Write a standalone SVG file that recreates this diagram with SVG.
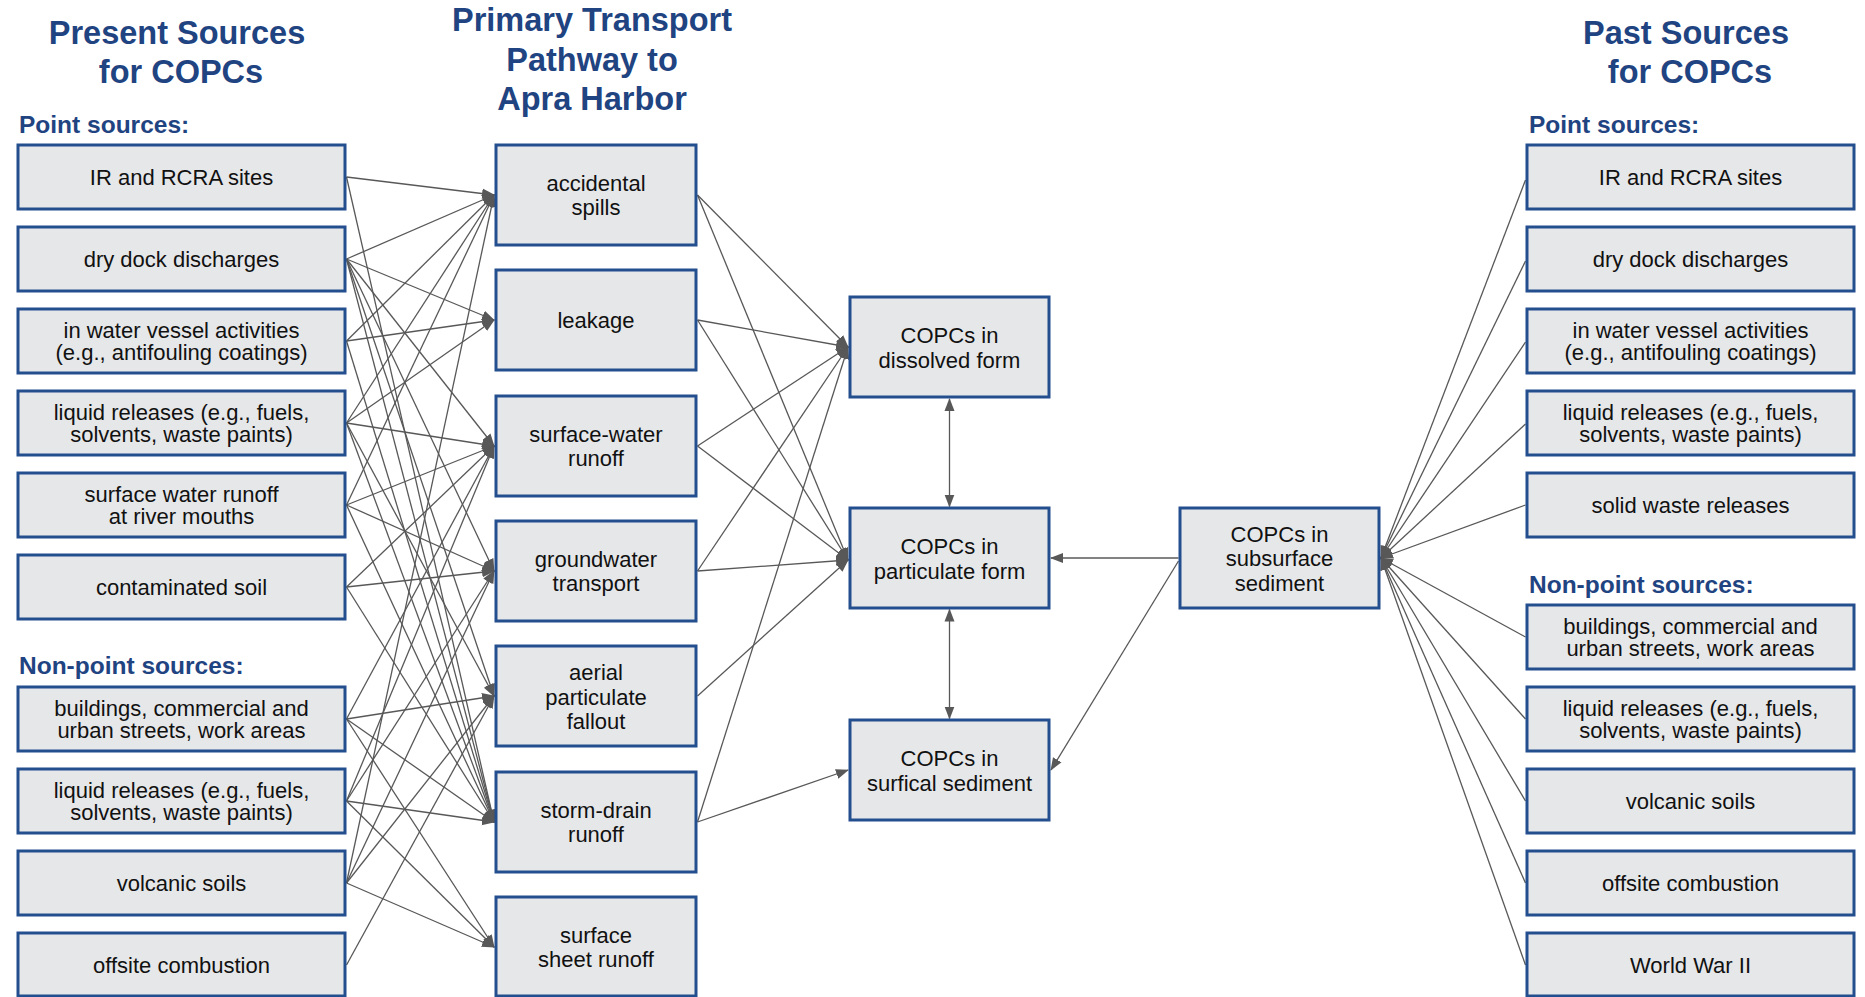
<svg xmlns="http://www.w3.org/2000/svg" width="1865" height="997" viewBox="0 0 1865 997">
<defs>
<style>
.box{fill:#e6e7e9;stroke:#244f8f;stroke-width:3}
.t{font-family:"Liberation Sans",Arial,sans-serif;font-size:22px;fill:#111;text-anchor:middle}
.h{font-family:"Liberation Sans",Arial,sans-serif;font-size:32.5px;font-weight:bold;fill:#1f4481;text-anchor:middle}
.s{font-family:"Liberation Sans",Arial,sans-serif;font-size:24.5px;font-weight:bold;fill:#1f4481}
.c line{stroke:#585858;stroke-width:1.3;fill:none;marker-end:url(#ah)}
.c line.d{marker-start:url(#ah)}
</style>
<marker id="ah" markerUnits="userSpaceOnUse" markerWidth="14" markerHeight="12" refX="12" refY="5" orient="auto-start-reverse" viewBox="0 0 14 10">
<path d="M0,0 L13,5 L0,10 z" fill="#585858"/>
</marker>
</defs>
<rect width="1865" height="997" fill="#fff"/>

<g id="headings">
<text class="h" x="177" y="43.5">Present Sources</text>
<text class="h" x="181" y="83">for COPCs</text>
<text class="h" x="592" y="31">Primary Transport</text>
<text class="h" x="592" y="70.5">Pathway to</text>
<text class="h" x="592" y="110">Apra Harbor</text>
<text class="h" x="1686" y="43.5">Past Sources</text>
<text class="h" x="1690" y="83">for COPCs</text>
<text class="s" x="19" y="133">Point sources:</text>
<text class="s" x="19" y="674">Non-point sources:</text>
<text class="s" x="1529" y="133">Point sources:</text>
<text class="s" x="1529" y="593">Non-point sources:</text>
</g>

<g id="connectors" class="c">
<line x1="346.5" y1="177" x2="494" y2="195"/>
<line x1="346.5" y1="177" x2="494" y2="822"/>
<line x1="346.5" y1="259" x2="494" y2="195"/>
<line x1="346.5" y1="259" x2="494" y2="320"/>
<line x1="346.5" y1="259" x2="494" y2="446"/>
<line x1="346.5" y1="259" x2="494" y2="571"/>
<line x1="346.5" y1="259" x2="494" y2="696"/>
<line x1="346.5" y1="259" x2="494" y2="822"/>
<line x1="346.5" y1="341" x2="494" y2="195"/>
<line x1="346.5" y1="341" x2="494" y2="320"/>
<line x1="346.5" y1="341" x2="494" y2="822"/>
<line x1="346.5" y1="423" x2="494" y2="195"/>
<line x1="346.5" y1="423" x2="494" y2="320"/>
<line x1="346.5" y1="423" x2="494" y2="446"/>
<line x1="346.5" y1="423" x2="494" y2="696"/>
<line x1="346.5" y1="423" x2="494" y2="822"/>
<line x1="346.5" y1="505" x2="494" y2="195"/>
<line x1="346.5" y1="505" x2="494" y2="446"/>
<line x1="346.5" y1="505" x2="494" y2="571"/>
<line x1="346.5" y1="505" x2="494" y2="822"/>
<line x1="346.5" y1="587" x2="494" y2="446"/>
<line x1="346.5" y1="587" x2="494" y2="571"/>
<line x1="346.5" y1="587" x2="494" y2="822"/>
<line x1="346.5" y1="719" x2="494" y2="446"/>
<line x1="346.5" y1="719" x2="494" y2="696"/>
<line x1="346.5" y1="719" x2="494" y2="822"/>
<line x1="346.5" y1="719" x2="494" y2="947"/>
<line x1="346.5" y1="801" x2="494" y2="446"/>
<line x1="346.5" y1="801" x2="494" y2="571"/>
<line x1="346.5" y1="801" x2="494" y2="822"/>
<line x1="346.5" y1="801" x2="494" y2="947"/>
<line x1="346.5" y1="883" x2="494" y2="195"/>
<line x1="346.5" y1="883" x2="494" y2="571"/>
<line x1="346.5" y1="883" x2="494" y2="696"/>
<line x1="346.5" y1="883" x2="494" y2="947"/>
<line x1="346.5" y1="965" x2="494" y2="696"/>
<line x1="697.5" y1="195" x2="848" y2="347"/>
<line x1="697.5" y1="195" x2="848" y2="560"/>
<line x1="697.5" y1="320" x2="848" y2="347"/>
<line x1="697.5" y1="320" x2="848" y2="560"/>
<line x1="697.5" y1="446" x2="848" y2="347"/>
<line x1="697.5" y1="446" x2="848" y2="560"/>
<line x1="697.5" y1="571" x2="848" y2="347"/>
<line x1="697.5" y1="571" x2="848" y2="560"/>
<line x1="697.5" y1="696" x2="848" y2="560"/>
<line x1="697.5" y1="822" x2="848" y2="347"/>
<line x1="697.5" y1="822" x2="848" y2="770"/>
<line class="d" x1="949.5" y1="399" x2="949.5" y2="506.5"/>
<line class="d" x1="949.5" y1="609.5" x2="949.5" y2="718.5"/>
<line x1="1178.5" y1="558" x2="1051" y2="558"/>
<line x1="1178.5" y1="561" x2="1051" y2="770"/>
<line x1="1525.5" y1="180" x2="1381" y2="558"/>
<line x1="1525.5" y1="261" x2="1381" y2="558"/>
<line x1="1525.5" y1="342" x2="1381" y2="558"/>
<line x1="1525.5" y1="424" x2="1381" y2="558"/>
<line x1="1525.5" y1="505" x2="1381" y2="558"/>
<line x1="1525.5" y1="637" x2="1381" y2="558"/>
<line x1="1525.5" y1="719" x2="1381" y2="558"/>
<line x1="1525.5" y1="801" x2="1381" y2="558"/>
<line x1="1525.5" y1="883" x2="1381" y2="558"/>
<line x1="1525.5" y1="965" x2="1381" y2="558"/>
</g>

<g id="present-ir"><rect class="box" x="18" y="145" width="327" height="64"/><text class="t" x="181.5" y="185">IR and RCRA sites</text></g>
<g id="present-drydock"><rect class="box" x="18" y="227" width="327" height="64"/><text class="t" x="181.5" y="267">dry dock discharges</text></g>
<g id="present-vessel"><rect class="box" x="18" y="309" width="327" height="64"/><text class="t" x="181.5" y="337.8">in water vessel activities</text><text class="t" x="181.5" y="360.3">(e.g., antifouling coatings)</text></g>
<g id="present-liquid"><rect class="box" x="18" y="391" width="327" height="64"/><text class="t" x="181.5" y="419.8">liquid releases (e.g., fuels,</text><text class="t" x="181.5" y="442.3">solvents, waste paints)</text></g>
<g id="present-swrunoff"><rect class="box" x="18" y="473" width="327" height="64"/><text class="t" x="181.5" y="501.8">surface water runoff</text><text class="t" x="181.5" y="524.3">at river mouths</text></g>
<g id="present-soil"><rect class="box" x="18" y="555" width="327" height="64"/><text class="t" x="181.5" y="595">contaminated soil</text></g>
<g id="present-buildings"><rect class="box" x="18" y="687" width="327" height="64"/><text class="t" x="181.5" y="715.8">buildings, commercial and</text><text class="t" x="181.5" y="738.3">urban streets, work areas</text></g>
<g id="present-liquid2"><rect class="box" x="18" y="769" width="327" height="64"/><text class="t" x="181.5" y="797.8">liquid releases (e.g., fuels,</text><text class="t" x="181.5" y="820.3">solvents, waste paints)</text></g>
<g id="present-volcanic"><rect class="box" x="18" y="851" width="327" height="64"/><text class="t" x="181.5" y="891">volcanic soils</text></g>
<g id="present-offsite"><rect class="box" x="18" y="933" width="327" height="63"/><text class="t" x="181.5" y="973">offsite combustion</text></g>

<g id="tp-spills"><rect class="box" x="496" y="145" width="200" height="100"/><text class="t" x="596" y="190.8">accidental</text><text class="t" x="596" y="215.3">spills</text></g>
<g id="tp-leakage"><rect class="box" x="496" y="270" width="200" height="100"/><text class="t" x="596" y="328">leakage</text></g>
<g id="tp-swrunoff"><rect class="box" x="496" y="396" width="200" height="100"/><text class="t" x="596" y="441.8">surface-water</text><text class="t" x="596" y="466.3">runoff</text></g>
<g id="tp-groundwater"><rect class="box" x="496" y="521" width="200" height="100"/><text class="t" x="596" y="566.8">groundwater</text><text class="t" x="596" y="591.3">transport</text></g>
<g id="tp-aerial"><rect class="box" x="496" y="646" width="200" height="100"/><text class="t" x="596" y="680">aerial</text><text class="t" x="596" y="704.5">particulate</text><text class="t" x="596" y="729">fallout</text></g>
<g id="tp-stormdrain"><rect class="box" x="496" y="772" width="200" height="100"/><text class="t" x="596" y="817.8">storm-drain</text><text class="t" x="596" y="842.3">runoff</text></g>
<g id="tp-sheet"><rect class="box" x="496" y="897" width="200" height="99"/><text class="t" x="596" y="942.8">surface</text><text class="t" x="596" y="967.3">sheet runoff</text></g>

<g id="copc-dissolved"><rect class="box" x="850" y="297" width="199" height="100"/><text class="t" x="949.5" y="343.3">COPCs in</text><text class="t" x="949.5" y="367.8">dissolved form</text></g>
<g id="copc-particulate"><rect class="box" x="850" y="508" width="199" height="100"/><text class="t" x="949.5" y="554.3">COPCs in</text><text class="t" x="949.5" y="578.8">particulate form</text></g>
<g id="copc-surfical"><rect class="box" x="850" y="720" width="199" height="100"/><text class="t" x="949.5" y="766.3">COPCs in</text><text class="t" x="949.5" y="790.8">surfical sediment</text></g>
<g id="copc-subsurface"><rect class="box" x="1180" y="508" width="199" height="100"/><text class="t" x="1279.5" y="541.5">COPCs in</text><text class="t" x="1279.5" y="566">subsurface</text><text class="t" x="1279.5" y="590.5">sediment</text></g>

<g id="past-ir"><rect class="box" x="1527" y="145" width="327" height="64"/><text class="t" x="1690.5" y="185">IR and RCRA sites</text></g>
<g id="past-drydock"><rect class="box" x="1527" y="227" width="327" height="64"/><text class="t" x="1690.5" y="267">dry dock discharges</text></g>
<g id="past-vessel"><rect class="box" x="1527" y="309" width="327" height="64"/><text class="t" x="1690.5" y="337.8">in water vessel activities</text><text class="t" x="1690.5" y="360.3">(e.g., antifouling coatings)</text></g>
<g id="past-liquid"><rect class="box" x="1527" y="391" width="327" height="64"/><text class="t" x="1690.5" y="419.8">liquid releases (e.g., fuels,</text><text class="t" x="1690.5" y="442.3">solvents, waste paints)</text></g>
<g id="past-solidwaste"><rect class="box" x="1527" y="473" width="327" height="64"/><text class="t" x="1690.5" y="513">solid waste releases</text></g>
<g id="past-buildings"><rect class="box" x="1527" y="605" width="327" height="64"/><text class="t" x="1690.5" y="633.8">buildings, commercial and</text><text class="t" x="1690.5" y="656.3">urban streets, work areas</text></g>
<g id="past-liquid2"><rect class="box" x="1527" y="687" width="327" height="64"/><text class="t" x="1690.5" y="715.8">liquid releases (e.g., fuels,</text><text class="t" x="1690.5" y="738.3">solvents, waste paints)</text></g>
<g id="past-volcanic"><rect class="box" x="1527" y="769" width="327" height="64"/><text class="t" x="1690.5" y="809">volcanic soils</text></g>
<g id="past-offsite"><rect class="box" x="1527" y="851" width="327" height="64"/><text class="t" x="1690.5" y="891">offsite combustion</text></g>
<g id="past-wwii"><rect class="box" x="1527" y="933" width="327" height="63"/><text class="t" x="1690.5" y="973">World War II</text></g>
</svg>
